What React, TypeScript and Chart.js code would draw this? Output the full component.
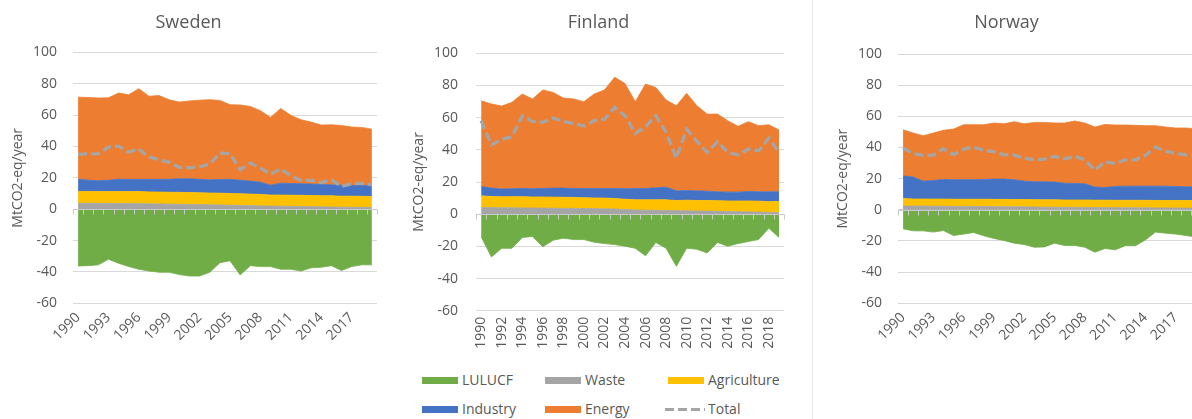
import React, { useEffect, useRef } from "react";
import { Chart, registerables } from "chart.js";

Chart.register(...registerables);

const FONT = "'Open Sans', 'Noto Sans', sans-serif";
const TEXT = "#595959";

const YEARS = [
  "1990", "1991", "1992", "1993", "1994", "1995", "1996", "1997", "1998", "1999",
  "2000", "2001", "2002", "2003", "2004", "2005", "2006", "2007", "2008", "2009",
  "2010", "2011", "2012", "2013", "2014", "2015", "2016", "2017", "2018", "2019",
];

const SERIES_NAMES = ["LULUCF", "Waste", "Agriculture", "Industry", "Energy", "Total"];
const COLORS = {
  LULUCF: "#70ad47",
  Waste: "#a5a5a5",
  Agriculture: "#ffc000",
  Industry: "#4472c4",
  Energy: "#ed7d31",
  Total: "#a5a5a5",
};
const Y_TICKS = [-60, -40, -20, 0, 20, 40, 60, 80, 100];
const Y_TITLE = "MtCO2-eq/year";

// ---------- Sweden ----------
const SE_LULUCF = [-36.2, -36.0, -35.5, -31.9, -34.5, -36.6, -38.3, -39.4, -40.2, -40.2, -41.7, -42.6, -42.6, -40.2, -34.2, -32.9, -41.9, -36.0, -36.6, -36.6, -38.3, -38.3, -39.4, -37.4, -37.0, -36.0, -39.1, -36.6, -35.5, -35.5];
const SE_WASTE = [3.8, 3.8, 3.7, 3.7, 3.6, 3.6, 3.5, 3.4, 3.3, 3.2, 3.1, 3.0, 2.9, 2.8, 2.7, 2.5, 2.4, 2.3, 2.1, 2.0, 1.9, 1.8, 1.7, 1.6, 1.5, 1.4, 1.3, 1.2, 1.2, 1.1];
const SE_AGRI = [7.5, 7.5, 7.6, 7.5, 7.6, 7.6, 7.7, 7.6, 7.6, 7.6, 7.6, 7.6, 7.5, 7.5, 7.5, 7.5, 7.4, 7.3, 7.3, 7.0, 7.1, 7.1, 7.1, 7.1, 7.1, 7.1, 7.0, 7.1, 7.0, 7.0];
const SE_INDUSTRY = [7.8, 7.2, 6.8, 7.3, 7.9, 7.8, 7.8, 8.0, 8.1, 8.2, 8.7, 8.8, 8.6, 8.4, 8.7, 9.0, 8.7, 8.3, 7.8, 6.3, 7.6, 7.5, 7.4, 7.3, 7.1, 7.0, 7.0, 6.8, 6.9, 6.8];
const SE_ENERGY = [52.3, 52.7, 52.7, 52.5, 54.9, 54.0, 57.8, 53.0, 53.4, 50.7, 48.9, 49.6, 50.5, 51.1, 50.4, 47.6, 47.9, 47.6, 45.6, 43.2, 47.6, 43.4, 40.8, 39.5, 37.9, 38.3, 38.0, 37.3, 37.0, 36.1];
const SE_TOTAL = [34.9, 35.3, 35.3, 39.6, 40.2, 36.4, 38.3, 33.2, 31.5, 29.8, 26.6, 26.4, 27.0, 28.9, 35.7, 35.4, 25.1, 29.4, 26.2, 22.3, 25.7, 21.3, 18.3, 18.3, 17.0, 18.7, 14.5, 16.2, 16.6, 15.5];

// ---------- Finland ----------
const FI_LULUCF = [-14.1, -26.6, -21.2, -21.2, -14.5, -13.9, -20.3, -16.2, -14.9, -15.8, -15.8, -17.4, -18.3, -18.9, -19.9, -21.2, -25.9, -17.6, -21.2, -32.4, -21.2, -21.8, -24.1, -17.6, -19.9, -18.3, -17.0, -15.8, -8.7, -14.5];
const FI_WASTE = [4.1, 4.1, 4.0, 4.0, 3.9, 3.9, 3.8, 3.7, 3.6, 3.6, 3.5, 3.4, 3.3, 3.2, 2.9, 2.6, 2.5, 2.4, 2.3, 2.2, 2.1, 2.0, 1.9, 1.8, 1.6, 1.5, 1.4, 1.3, 1.1, 1.0];
const FI_AGRI = [7.3, 6.9, 6.8, 6.9, 7.0, 6.8, 6.9, 6.9, 6.9, 6.8, 6.7, 6.7, 6.7, 6.5, 6.4, 6.3, 6.4, 6.5, 6.6, 6.3, 6.6, 6.5, 6.6, 6.6, 6.6, 6.7, 6.8, 6.8, 6.7, 6.9];
const FI_INDUSTRY = [5.8, 5.2, 4.8, 4.9, 5.1, 5.1, 5.3, 5.6, 5.7, 5.6, 5.7, 5.8, 5.9, 6.2, 6.5, 7.0, 7.1, 7.5, 7.9, 6.0, 6.0, 6.0, 5.8, 5.5, 5.5, 5.5, 5.9, 5.8, 6.1, 6.0];
const FI_ENERGY = [53.3, 52.3, 51.6, 53.7, 58.7, 55.8, 61.2, 59.5, 56.0, 55.6, 54.0, 58.8, 61.3, 69.2, 65.5, 54.0, 64.9, 62.4, 54.2, 52.9, 60.4, 52.9, 47.9, 48.3, 44.4, 40.9, 43.4, 41.1, 41.7, 38.4];
const FI_TOTAL = [58.1, 43.0, 46.5, 48.1, 61.2, 57.7, 57.1, 59.8, 57.7, 56.4, 54.8, 58.1, 59.1, 66.4, 61.2, 50.2, 54.4, 61.2, 50.8, 34.9, 52.9, 45.2, 38.4, 45.0, 38.4, 36.9, 40.5, 39.4, 47.3, 38.4];

// ---------- Norway ----------
const NO_LULUCF = [-12.2, -13.5, -13.5, -14.3, -13.3, -16.5, -15.6, -14.6, -16.7, -18.4, -19.7, -21.4, -22.3, -24.0, -23.8, -21.4, -22.9, -22.9, -24.0, -27.2, -24.8, -25.7, -23.1, -23.1, -19.3, -14.3, -15.0, -15.6, -16.5, -17.5];
const NO_WASTE = [2.4, 2.4, 2.4, 2.3, 2.3, 2.2, 2.2, 2.1, 2.1, 2.0, 2.0, 1.9, 1.9, 1.8, 1.7, 1.7, 1.6, 1.6, 1.5, 1.5, 1.4, 1.4, 1.3, 1.3, 1.3, 1.2, 1.2, 1.2, 1.1, 1.1];
const NO_AGRI = [4.9, 4.5, 4.5, 4.6, 4.6, 4.6, 4.6, 4.7, 4.7, 4.7, 4.7, 4.7, 4.7, 4.7, 4.7, 4.7, 4.7, 4.7, 4.8, 4.7, 4.8, 4.7, 4.8, 4.8, 4.8, 4.8, 4.8, 4.8, 4.9, 4.9];
const NO_INDUSTRY = [14.5, 14.1, 11.5, 11.9, 12.6, 12.5, 12.5, 12.5, 12.7, 13.0, 13.0, 12.7, 11.8, 11.5, 11.6, 11.4, 10.8, 10.6, 10.4, 8.4, 8.1, 8.9, 9.1, 9.1, 9.1, 9.2, 9.2, 9.0, 8.8, 8.7];
const NO_ENERGY = [29.6, 28.3, 29.1, 30.5, 31.5, 32.5, 35.3, 35.3, 35.1, 36.0, 35.5, 37.2, 36.8, 38.1, 38.1, 37.9, 38.6, 40.1, 39.0, 38.5, 40.5, 39.4, 39.2, 39.0, 38.8, 38.8, 37.9, 37.5, 37.7, 37.3];
const NO_TOTAL = [39.8, 36.0, 34.9, 35.1, 39.2, 35.5, 39.0, 40.3, 38.1, 37.3, 35.3, 35.1, 33.2, 32.1, 32.5, 34.3, 32.8, 34.3, 32.1, 25.3, 31.0, 29.6, 32.1, 32.1, 34.9, 40.3, 37.5, 36.4, 35.3, 35.0];

type Panel = {
  title: string;
  lulucf: number[]; waste: number[]; agri: number[]; industry: number[]; energy: number[]; total: number[];
  left: number; width: number; height: number;
  plotTop: number; plotBottom: number; plotLeftInCanvas: number; padRight: number;
  yTitlePad: number; tickPad: number; labelStep: number; rotation: number;
};

const PANELS: Panel[] = [
  {
    title: "Sweden", lulucf: SE_LULUCF, waste: SE_WASTE, agri: SE_AGRI, industry: SE_INDUSTRY, energy: SE_ENERGY, total: SE_TOTAL,
    left: 0, width: 390, height: 360, plotTop: 52.3, plotBottom: 303.3, plotLeftInCanvas: 73, padRight: 13,
    yTitlePad: 10, tickPad: 16, labelStep: 3, rotation: 45,
  },
  {
    title: "Finland", lulucf: FI_LULUCF, waste: FI_WASTE, agri: FI_AGRI, industry: FI_INDUSTRY, energy: FI_ENERGY, total: FI_TOTAL,
    left: 400, width: 402, height: 360, plotTop: 53.3, plotBottom: 310.7, plotLeftInCanvas: 76, padRight: 5,
    yTitlePad: 10.6, tickPad: 18, labelStep: 2, rotation: 90,
  },
  {
    title: "Norway", lulucf: NO_LULUCF, waste: NO_WASTE, agri: NO_AGRI, industry: NO_INDUSTRY, energy: NO_ENERGY, total: NO_TOTAL,
    left: 812, width: 418, height: 360, plotTop: 54, plotBottom: 303.3, plotLeftInCanvas: 86, padRight: 29,
    yTitlePad: 23, tickPad: 16, labelStep: 3, rotation: 45,
  },
];

const zeroAxisPlugin = {
  id: "zeroAxis",
  afterDatasetsDraw(chart: any) {
    const { ctx, chartArea, scales } = chart;
    const xs = scales.x;
    const y = Math.round(scales.y.getPixelForValue(0)) + 0.5;
    ctx.save();
    ctx.strokeStyle = "#c9c9c9";
    ctx.lineWidth = 1;
    ctx.beginPath();
    ctx.moveTo(chartArea.left, y);
    ctx.lineTo(chartArea.right, y);
    const n = YEARS.length;
    const bounds: number[] = [chartArea.left];
    for (let i = 0; i < n - 1; i++) {
      bounds.push((xs.getPixelForValue(i) + xs.getPixelForValue(i + 1)) / 2);
    }
    bounds.push(chartArea.right);
    for (const b of bounds) {
      const bx = Math.round(b) + 0.5;
      ctx.moveTo(bx, y);
      ctx.lineTo(bx, y + 5);
    }
    ctx.stroke();
    ctx.restore();
  },
};

function areaDs(label: string, data: number[], fill: any) {
  const c = (COLORS as any)[label];
  return {
    label,
    data,
    backgroundColor: c,
    borderColor: c,
    borderWidth: 0.8,
    pointRadius: 0,
    pointHoverRadius: 0,
    tension: 0,
    fill,
    stack: "main",
  };
}

function PanelChart({ p }: { p: Panel }) {
  const ref = useRef<HTMLCanvasElement | null>(null);
  useEffect(() => {
    if (!ref.current) return;
    const titleLine = 18 * 1.2;
    const titleTop = 12;
    const chart = new Chart(ref.current, {
      type: "line",
      data: {
        labels: YEARS,
        datasets: [
          areaDs(SERIES_NAMES[1], p.waste, "origin"),
          areaDs(SERIES_NAMES[2], p.agri, "-1"),
          areaDs(SERIES_NAMES[3], p.industry, "-1"),
          areaDs(SERIES_NAMES[4], p.energy, "-1"),
          areaDs(SERIES_NAMES[0], p.lulucf, "origin"),
          {
            label: SERIES_NAMES[5],
            data: p.total,
            borderColor: COLORS.Total,
            backgroundColor: COLORS.Total,
            borderWidth: 3.3,
            borderDash: [9, 4],
            pointRadius: 0,
            pointHoverRadius: 0,
            tension: 0,
            fill: false,
            stack: "total",
            order: -1,
          } as any,
        ],
      },
      options: {
        responsive: false,
        animation: false,
        devicePixelRatio: 1,
        layout: { padding: { left: 0, right: p.padRight, top: 0, bottom: 0 } },
        plugins: {
          legend: { display: false },
          tooltip: { enabled: false },
          title: {
            display: true,
            text: p.title,
            color: TEXT,
            font: { family: FONT, size: 18, weight: "normal" },
            padding: { top: titleTop, bottom: p.plotTop - titleTop - titleLine },
          },
        },
        scales: {
          x: {
            type: "category",
            offset: true,
            grid: { display: false, drawTicks: false },
            border: { display: false },
            afterFit: (s: any) => { s.height = p.height - p.plotBottom; },
            ticks: {
              autoSkip: false,
              minRotation: p.rotation,
              maxRotation: p.rotation,
              padding: 6,
              color: TEXT,
              font: { family: FONT, size: 14 },
              callback: (_v: any, i: number) => (i % p.labelStep === 0 ? YEARS[i] : ""),
            },
          },
          y: {
            stacked: true,
            min: Y_TICKS[0],
            max: Y_TICKS[Y_TICKS.length - 1],
            afterFit: (s: any) => { s.width = p.plotLeftInCanvas; },
            afterBuildTicks: (s: any) => { s.ticks = Y_TICKS.map((v) => ({ value: v })); },
            grid: { color: "#d9d9d9", lineWidth: 1, drawTicks: false },
            border: { display: false },
            ticks: {
              padding: p.tickPad,
              color: TEXT,
              font: { family: FONT, size: 14 },
            },
            title: {
              display: true,
              text: Y_TITLE,
              color: TEXT,
              font: { family: FONT, size: 14 },
              padding: { top: p.yTitlePad, bottom: 0 },
            },
          },
        },
      },
      plugins: [zeroAxisPlugin],
    });
    return () => chart.destroy();
  }, [p]);
  return (
    <div style={{ position: "absolute", left: p.left, top: 0, width: p.width, height: p.height }}>
      <canvas ref={ref} width={p.width} height={p.height} style={{ display: "block" }} />
    </div>
  );
}

type LegendItem = { name: string; x: number; y: number; dashed?: boolean };
const LEGEND_ITEMS: LegendItem[] = [
  { name: "LULUCF", x: 422, y: 380 },
  { name: "Waste", x: 545, y: 380 },
  { name: "Agriculture", x: 668, y: 380 },
  { name: "Industry", x: 422, y: 409 },
  { name: "Energy", x: 545, y: 409 },
  { name: "Total", x: 665, y: 409, dashed: true },
];

function Legend() {
  return (
    <>
      {LEGEND_ITEMS.map((it) => {
        const c = (COLORS as any)[it.name];
        const swW = it.dashed ? 40 : 36;
        return (
          <div
            key={it.name}
            style={{
              position: "absolute",
              left: it.x,
              top: it.y - 10,
              height: 20,
              display: "flex",
              alignItems: "center",
              fontFamily: FONT,
              fontSize: 14,
              color: TEXT,
              whiteSpace: "nowrap",
            }}
          >
            {it.dashed ? (
              <div
                style={{
                  width: swW,
                  height: 3,
                  background: `repeating-linear-gradient(to right, ${c} 0 9px, transparent 9px 13px)`,
                }}
              />
            ) : (
              <div style={{ width: swW, height: 7, background: c }} />
            )}
            <span style={{ marginLeft: it.dashed ? 3 : 4, lineHeight: "20px" }}>{it.name}</span>
          </div>
        );
      })}
    </>
  );
}

export default function App() {
  return (
    <div
      style={{
        position: "absolute",
        left: 0,
        top: 0,
        width: 1192,
        height: 419,
        overflow: "hidden",
        background: "#ffffff",
      }}
    >
      {PANELS.map((p) => (
        <PanelChart key={p.title} p={p} />
      ))}
      <div style={{ position: "absolute", left: 812, top: 0, width: 1, height: 419, background: "#e6e6e6" }} />
      <Legend />
    </div>
  );
}
